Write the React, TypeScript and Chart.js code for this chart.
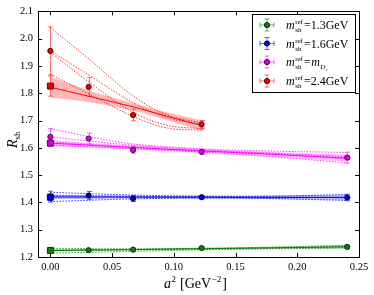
import React, { useEffect, useRef } from 'react';
import { Chart, registerables } from 'chart.js';
Chart.register(...registerables);

// lattice spacings a^2 [GeV^-2]
const aSq = [0.0, 0.031, 0.067, 0.1225, 0.2405];

// measured points
const greenVals = [1.224, 1.225, 1.227, 1.233, 1.237];
const greenErrs = [0.006, 0.004, 0.004, 0.003, 0.006];
const blueVals = [1.421, 1.425, 1.414, 1.419, 1.418];
const blueErrs = [0.02, 0.015, 0.011, 0.006, 0.012];
const magVals = [1.64, 1.634, 1.592, 1.585, 1.564];
const magErrs = [0.03, 0.02, 0.012, 0.009, 0.02];
const redVals = [1.955, 1.823, 1.72, 1.686];
const redErrs = [0.088, 0.035, 0.021, 0.014];

// continuum extrapolations (a^2 = 0)
const extrapVals = [1.224, 1.419, 1.617, 1.826];
const extrapErrs = [0.007, 0.012, 0.01, 0.037];

// fit curves
const fitX = [0, 0.06, 0.12, 0.18, 0.24];
const greenFit = [1.2235, 1.2268, 1.2302, 1.2336, 1.237];
const greenLo = [1.2195, 1.2238, 1.2272, 1.2296, 1.231];
const greenHi = [1.2275, 1.2298, 1.2332, 1.2376, 1.243];
const blueFit = [1.42, 1.4195, 1.419, 1.4185, 1.418];
const blueLo = [1.412, 1.4135, 1.414, 1.4115, 1.408];
const blueHi = [1.428, 1.4255, 1.424, 1.4255, 1.428];
const magFit = [1.617, 1.603, 1.589, 1.576, 1.562];
const magLo = [1.606, 1.596, 1.583, 1.567, 1.549];
const magHi = [1.628, 1.61, 1.595, 1.585, 1.575];
const redFitX = [0, 0.03, 0.067, 0.095, 0.124];
const redFit = [1.822, 1.79, 1.75, 1.715, 1.68];
const redLo = [1.784, 1.768, 1.737, 1.701, 1.661];
const redHi = [1.86, 1.812, 1.763, 1.729, 1.699];

// alternative fits (dotted)
const greenDots = [
  [1.232, 1.23, 1.232, 1.236, 1.243],
  [1.214, 1.22, 1.226, 1.23, 1.233],
  [1.226, 1.226, 1.229, 1.233, 1.239],
];
const blueDots = [
  [1.437, 1.428, 1.423, 1.423, 1.429],
  [1.403, 1.412, 1.416, 1.414, 1.407],
  [1.425, 1.422, 1.42, 1.419, 1.419],
];
const magDots = [
  [1.67, 1.618, 1.597, 1.588, 1.583],
  [1.61, 1.598, 1.585, 1.567, 1.545],
  [1.64, 1.612, 1.594, 1.58, 1.568],
  [1.622, 1.604, 1.59, 1.578, 1.56],
];
const redDots = [
  [2.04, 1.93, 1.79, 1.72, 1.69],
  [1.955, 1.87, 1.765, 1.71, 1.685],
  [1.95, 1.845, 1.73, 1.682, 1.67],
  [1.87, 1.8, 1.715, 1.672, 1.665],
];

const xTicks = [0, 0.05, 0.1, 0.15, 0.2, 0.25];
const yTicks = [1.2, 1.3, 1.4, 1.5, 1.6, 1.7, 1.8, 1.9, 2.0, 2.1];
const legendValues = ['=1.3GeV', '=1.6GeV', 'Ds', '=2.4GeV'];

const SERIF = "'Liberation Serif', 'DejaVu Serif', serif";

const series = [
  { vals: greenVals, errs: greenErrs, fitX, fit: greenFit, lo: greenLo, hi: greenHi, dots: greenDots,
    line: '#008000', face: '#137a13', edge: '#053805', fill: 'rgba(0,128,0,0.28)', err: 'rgba(0,128,0,0.6)', dot: 'rgba(0,128,0,0.8)' },
  { vals: blueVals, errs: blueErrs, fitX, fit: blueFit, lo: blueLo, hi: blueHi, dots: blueDots,
    line: '#0000ff', face: '#0000dd', edge: '#000055', fill: 'rgba(0,0,255,0.28)', err: 'rgba(0,0,255,0.6)', dot: 'rgba(0,0,255,0.8)' },
  { vals: magVals, errs: magErrs, fitX, fit: magFit, lo: magLo, hi: magHi, dots: magDots,
    line: '#ff00ff', face: '#dd00dd', edge: '#550055', fill: 'rgba(255,0,255,0.28)', err: 'rgba(255,0,255,0.6)', dot: 'rgba(255,0,255,0.8)' },
  { vals: redVals, errs: redErrs, fitX: redFitX, fit: redFit, lo: redLo, hi: redHi, dots: redDots,
    line: '#ff0000', face: '#ee0000', edge: '#550000', fill: 'rgba(255,0,0,0.28)', err: 'rgba(255,0,0,0.55)', dot: 'rgba(255,0,0,0.8)' },
];

const pts = (xs: number[], ys: number[]) => ys.map((y, i) => ({ x: xs[i], y }));

const errPlugin = {
  id: 'errbars',
  beforeDatasetDraw(chart: any, args: any) {
    const ds = chart.data.datasets[args.index];
    if (!ds.errs) return;
    const ctx = chart.ctx;
    const xs = chart.scales.x, ys = chart.scales.y;
    ctx.save();
    ctx.strokeStyle = ds.errColor;
    ctx.lineWidth = 1;
    ds.data.forEach((p: any, i: number) => {
      const e = ds.errs[i];
      const px = Math.round(xs.getPixelForValue(p.x)) + 0.5;
      const top = ys.getPixelForValue(p.y + e), bot = ys.getPixelForValue(p.y - e);
      ctx.beginPath();
      ctx.moveTo(px, top); ctx.lineTo(px, bot);
      ctx.moveTo(px - 2.5, top); ctx.lineTo(px + 2.5, top);
      ctx.moveTo(px - 2.5, bot); ctx.lineTo(px + 2.5, bot);
      ctx.stroke();
    });
    ctx.restore();
  },
};

function drawMsh(ctx: CanvasRenderingContext2D, x: number, y: number) {
  ctx.font = `italic 12px ${SERIF}`;
  ctx.fillText('m', x, y);
  const w = ctx.measureText('m').width;
  ctx.font = `7px ${SERIF}`;
  ctx.fillText('ref', x + w + 0.5, y - 5);
  ctx.fillText('sh', x + w + 0.5, y + 3);
  return x + w + 0.5 + ctx.measureText('ref').width + 1;
}

const framePlugin = {
  id: 'frame',
  afterDraw(chart: any) {
    const ctx = chart.ctx;
    const { left, right, top, bottom } = chart.chartArea;
    const xs = chart.scales.x, ys = chart.scales.y;
    ctx.save();
    ctx.strokeStyle = '#000';
    ctx.lineWidth = 1;
    ctx.beginPath();
    xTicks.forEach((v) => {
      const px = Math.round(xs.getPixelForValue(v)) + 0.5;
      ctx.moveTo(px, bottom); ctx.lineTo(px, bottom - 4);
      ctx.moveTo(px, top); ctx.lineTo(px, top + 4);
    });
    yTicks.forEach((v) => {
      const py = Math.round(ys.getPixelForValue(v)) + 0.5;
      ctx.moveTo(left, py); ctx.lineTo(left + 4, py);
      ctx.moveTo(right, py); ctx.lineTo(right - 4, py);
    });
    ctx.stroke();
    ctx.strokeRect(Math.round(left) + 0.5, Math.round(top) + 0.5, Math.round(right - left), Math.round(bottom - top));

    // axis titles
    ctx.fillStyle = '#000';
    ctx.textBaseline = 'alphabetic';
    ctx.textAlign = 'left';
    // x title
    let x = 164;
    const by = 288;
    ctx.font = `italic 14px ${SERIF}`;
    ctx.fillText('a', x, by);
    x += ctx.measureText('a').width + 0.5;
    ctx.font = `9px ${SERIF}`;
    ctx.fillText('2', x, by - 6);
    x += ctx.measureText('2').width + 4;
    ctx.font = `14px ${SERIF}`;
    ctx.fillText('[GeV', x, by);
    x += ctx.measureText('[GeV').width + 0.5;
    ctx.font = `9px ${SERIF}`;
    ctx.fillText('\u22122', x, by - 6);
    x += ctx.measureText('\u22122').width + 1;
    ctx.font = `14px ${SERIF}`;
    ctx.fillText(']', x, by);

    // y title (rotated)
    ctx.save();
    ctx.translate(17, 148);
    ctx.rotate(-Math.PI / 2);
    ctx.font = `italic 14px ${SERIF}`;
    ctx.fillText('R', 0, 0);
    const rw = ctx.measureText('R').width;
    ctx.font = `9px ${SERIF}`;
    ctx.fillText('sh', rw, 3);
    ctx.restore();

    // legend
    const lx = 252.5, ly = 14.5, lw = 103, lh = 78;
    ctx.fillStyle = '#fff';
    ctx.fillRect(lx, ly, lw, lh);
    ctx.strokeStyle = '#000';
    ctx.strokeRect(lx, ly, lw, lh);
    const rows = [25, 43.5, 62, 81];
    series.forEach((s, i) => {
      const cy = rows[i];
      const cx = 267;
      ctx.strokeStyle = s.err;
      ctx.beginPath();
      ctx.moveTo(cx - 7, cy); ctx.lineTo(cx + 7, cy);
      ctx.moveTo(cx - 7, cy - 2.5); ctx.lineTo(cx - 7, cy + 2.5);
      ctx.moveTo(cx + 7, cy - 2.5); ctx.lineTo(cx + 7, cy + 2.5);
      ctx.moveTo(cx, cy - 6); ctx.lineTo(cx, cy + 6);
      ctx.moveTo(cx - 2.5, cy - 6); ctx.lineTo(cx + 2.5, cy - 6);
      ctx.moveTo(cx - 2.5, cy + 6); ctx.lineTo(cx + 2.5, cy + 6);
      ctx.stroke();
      ctx.beginPath();
      ctx.arc(cx, cy, 2.6, 0, Math.PI * 2);
      ctx.fillStyle = s.face;
      ctx.fill();
      ctx.strokeStyle = s.edge;
      ctx.stroke();

      ctx.fillStyle = '#000';
      const ty = cy + 4;
      let tx = drawMsh(ctx, 286, ty);
      const v = legendValues[i];
      if (v === 'Ds') {
        ctx.font = `12px ${SERIF}`;
        ctx.fillText('=', tx, ty);
        tx += ctx.measureText('=').width + 0.5;
        ctx.font = `italic 12px ${SERIF}`;
        ctx.fillText('m', tx, ty);
        tx += ctx.measureText('m').width + 0.5;
        ctx.font = `italic 7px ${SERIF}`;
        ctx.fillText('D', tx, ty + 3);
        tx += ctx.measureText('D').width;
        ctx.font = `italic 5px ${SERIF}`;
        ctx.fillText('s', tx, ty + 5);
      } else {
        ctx.font = `12px ${SERIF}`;
        ctx.fillText(v, tx, ty);
      }
    });
    ctx.restore();
  },
};

export default function App() {
  const ref = useRef<HTMLCanvasElement>(null);
  useEffect(() => {
    document.body.style.margin = '0';
    const datasets: any[] = [];
    series.forEach((s) => {
      datasets.push({ data: pts(s.fitX, s.lo), borderWidth: 0, pointRadius: 0, fill: false, order: 10, tension: 0.3, borderColor: 'rgba(0,0,0,0)' });
      datasets.push({ data: pts(s.fitX, s.hi), borderWidth: 0, pointRadius: 0, fill: '-1', backgroundColor: s.fill, order: 10, tension: 0.3, borderColor: 'rgba(0,0,0,0)' });
    });
    series.forEach((s) => {
      s.dots.forEach((d) => {
        datasets.push({ data: pts(s.fitX, d), borderWidth: 1, borderDash: [1.5, 1.5], borderColor: s.dot, pointRadius: 0, fill: false, order: 8, tension: 0.35 });
      });
    });
    series.forEach((s) => {
      datasets.push({ data: pts(s.fitX, s.fit), borderWidth: 1, borderColor: s.line, pointRadius: 0, fill: false, order: 6, tension: 0.3 });
    });
    series.forEach((s, i) => {
      datasets.push({
        data: pts(aSq, s.vals), errs: s.errs, errColor: s.err, showLine: false, pointStyle: 'circle', pointRadius: 2.6,
        backgroundColor: s.face, borderColor: s.edge, borderWidth: 1, order: 3,
      });
      datasets.push({
        data: [{ x: 0, y: extrapVals[i] }], errs: [extrapErrs[i]], errColor: s.err, showLine: false, pointStyle: 'rect', pointRadius: 4.2,
        backgroundColor: s.face, borderColor: s.edge, borderWidth: 1, order: 2,
      });
    });

    const chart = new Chart(ref.current!, {
      type: 'line',
      data: { datasets },
      plugins: [errPlugin, framePlugin],
      options: {
        animation: false,
        responsive: false,
        layout: { padding: { top: 9, right: 15, left: 0, bottom: 0 } },
        plugins: { legend: { display: false }, tooltip: { enabled: false } },
        scales: {
          x: {
            type: 'linear', min: -0.01, max: 0.25,
            afterFit: (sc: any) => { sc.height = 38; },
            afterBuildTicks: (sc: any) => { sc.ticks = xTicks.map((v) => ({ value: v })); },
            grid: { display: false, drawTicks: false },
            border: { display: false },
            ticks: { color: '#000', padding: 4, font: { family: SERIF, size: 10.5 }, callback: (v: any) => Number(v).toFixed(2), maxRotation: 0 },
          },
          y: {
            type: 'linear', min: 1.2, max: 2.1,
            afterFit: (sc: any) => { sc.width = 38; },
            afterBuildTicks: (sc: any) => { sc.ticks = yTicks.map((v) => ({ value: v })); },
            grid: { display: false, drawTicks: false },
            border: { display: false },
            ticks: { color: '#000', padding: 5, font: { family: SERIF, size: 10.5 }, callback: (v: any) => Number(v).toFixed(1) },
          },
        },
      } as any,
    });
    return () => chart.destroy();
  }, []);
  return (
    <div style={{ position: 'absolute', left: 0, top: 0, width: 374, height: 295 }}>
      <canvas ref={ref} width={374} height={295} style={{ width: 374, height: 295 }} />
    </div>
  );
}
